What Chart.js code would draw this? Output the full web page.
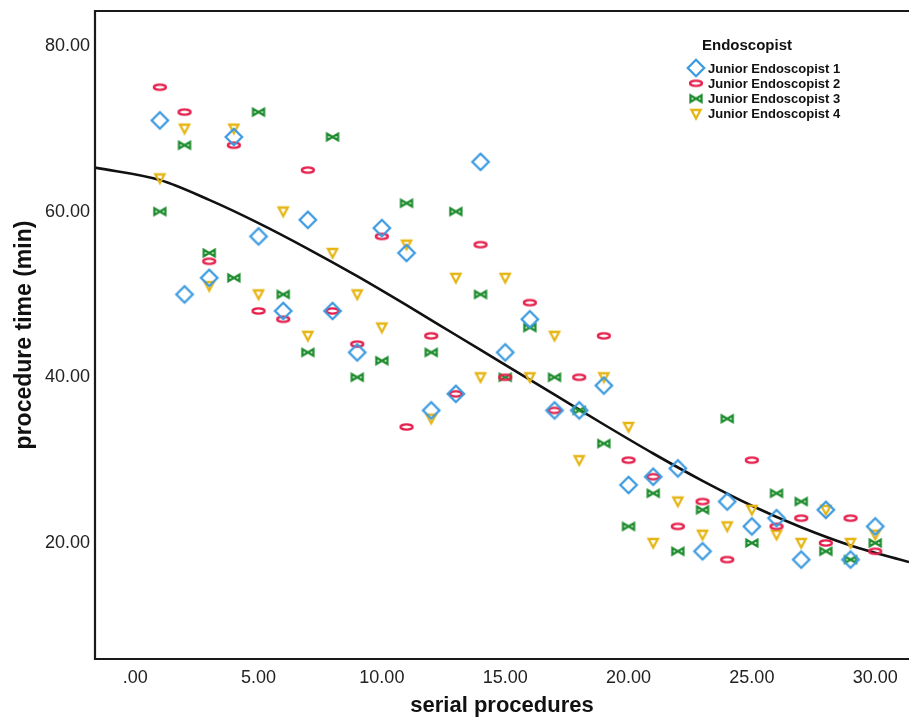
<!DOCTYPE html>
<html>
<head>
<meta charset="utf-8">
<script src="https://cdn.jsdelivr.net/npm/chart.js@4.4.0/dist/chart.umd.min.js"></script>
<style>
  html, body { margin: 0; padding: 0; background: #fff; }
  #wrap { width: 909px; height: 721px; }
</style>
</head>
<body>
<div id="wrap"><canvas id="chart" width="909" height="721"></canvas></div>
<script>
// procedure number (x) shared by all four endoscopists
const serial = [1, 2, 3, 4, 5, 6, 7, 8, 9, 10, 11, 12, 13, 14, 15, 16, 17, 18, 19, 20, 21, 22, 23, 24, 25, 26, 27, 28, 29, 30];

// procedure time (min)
const endo1 = [71, 50, 52, 69, 57, 48, 59, 48, 43, 58, 55, 36, 38, 66, 43, 47, 36, 36, 39, 27, 28, 29, 19, 25, 22, 23, 18, 24, 18, 22];
const endo2 = [75, 72, 54, 68, 48, 47, 65, 48, 44, 57, 34, 45, 38, 56, 40, 49, 36, 40, 45, 30, 28, 22, 25, 18, 30, 22, 23, 20, 23, 19];
const endo3 = [60, 68, 55, 52, 72, 50, 43, 69, 40, 42, 61, 43, 60, 50, 40, 46, 40, 36, 32, 22, 26, 19, 24, 35, 20, 26, 25, 19, 18, 20];
const endo4 = [64, 70, 51, 70, 50, 60, 45, 55, 50, 46, 56, 35, 52, 40, 52, 40, 45, 30, 40, 34, 20, 25, 21, 22, 24, 21, 20, 24, 20, 21];

// fitted learning curve, sampled along x
const fitX = [-1.63, 1, 3, 5, 7, 9, 11, 13, 15, 17, 19, 21, 23, 25, 27, 29, 31.37];
const fitY = [65.3, 63.8, 61.4, 58.6, 55.5, 52.2, 48.7, 45.1, 41.5, 37.9, 34.3, 30.8, 27.5, 24.5, 21.9, 19.7, 17.7];

const xTicks = [0, 5, 10, 15, 20, 25, 30];
const yTicks = [20, 40, 60, 80];

const seriesNames = ["Junior Endoscopist 1", "Junior Endoscopist 2", "Junior Endoscopist 3", "Junior Endoscopist 4"];
const seriesColors = ["#3b9ae0", "#e5204c", "#1d8c2d", "#e6b514"];
const seriesShapes = ["diamond", "ellipse", "bowtie", "triangleDown"];
const seriesValues = [endo1, endo2, endo3, endo4];

const FONT = "'Liberation Sans', Arial, sans-serif";

// hollow SPSS-style markers drawn on small canvases
function makeMarker(kind, color) {
  const c = document.createElement("canvas");
  c.width = 24; c.height = 24;
  const g = c.getContext("2d");
  g.translate(12, 12);
  g.strokeStyle = color;
  g.lineWidth = 2.3;
  g.lineJoin = "miter";
  g.beginPath();
  if (kind === "diamond") {
    g.moveTo(0, -8.2); g.lineTo(8.2, 0); g.lineTo(0, 8.2); g.lineTo(-8.2, 0); g.closePath();
  } else if (kind === "ellipse") {
    g.ellipse(0, 0, 6, 2.6, 0, 0, Math.PI * 2);
  } else if (kind === "bowtie") {
    g.moveTo(-5.5, -3.2); g.lineTo(5.5, 3.2); g.lineTo(5.5, -3.2); g.lineTo(-5.5, 3.2); g.closePath();
  } else {
    g.moveTo(-4.6, -4); g.lineTo(4.6, -4); g.lineTo(0, 4.6); g.closePath();
  }
  g.stroke();
  return c;
}

const markers = seriesShapes.map((s, i) => makeMarker(s, seriesColors[i]));

const scatterSets = seriesValues.map((vals, i) => ({
  label: seriesNames[i],
  data: serial.map((x, k) => ({ x: x, y: vals[k] })),
  pointStyle: markers[i],
  pointRadius: 9,
  pointHoverRadius: 9,
  showLine: false,
  order: 1
}));

const fitSet = {
  label: "fit",
  data: fitX.map((x, k) => ({ x: x, y: fitY[k] })),
  showLine: true,
  pointRadius: 0,
  pointHoverRadius: 0,
  borderColor: "#111",
  borderWidth: 2.6,
  cubicInterpolationMode: "monotone",
  fill: false,
  order: 2
};

function fmtTick(v) {
  return v === 0 ? ".00" : v.toFixed(2);
}

// plot frame (top, left, bottom) and the legend block
const framePlugin = {
  id: "frame",
  afterDraw(chart) {
    const ctx = chart.ctx;
    const a = chart.chartArea;
    ctx.save();
    ctx.strokeStyle = "#1a1a1a";
    ctx.lineWidth = 2.2;
    ctx.beginPath();
    ctx.moveTo(a.right + 3, a.top);
    ctx.lineTo(a.left, a.top);
    ctx.lineTo(a.left, a.bottom);
    ctx.lineTo(a.right + 3, a.bottom);
    ctx.stroke();

    ctx.fillStyle = "#111";
    ctx.textBaseline = "middle";
    ctx.textAlign = "left";
    ctx.font = "bold 15px " + FONT;
    ctx.fillText("Endoscopist", 702, 46);
    ctx.font = "bold 13px " + FONT;
    seriesNames.forEach((name, i) => {
      const y = 68 + i * 15.3;
      ctx.drawImage(markers[i], 696 - 12, y - 12);
      ctx.fillText(name, 708, y + 1);
    });
    ctx.restore();
  }
};

new Chart(document.getElementById("chart"), {
  type: "scatter",
  data: { datasets: [...scatterSets, fitSet] },
  options: {
    responsive: false,
    animation: false,
    events: [],
    layout: { autoPadding: false, padding: { top: 11, right: 0, bottom: 0, left: 0 } },
    plugins: {
      legend: { display: false },
      tooltip: { enabled: false }
    },
    scales: {
      x: {
        type: "linear",
        min: -1.63,
        max: 31.37,
        afterBuildTicks: s => { s.ticks = xTicks.map(v => ({ value: v })); },
        afterFit: s => { s.height = 62; s.paddingLeft = 0; s.paddingRight = 0; },
        grid: { display: false, drawTicks: false, tickLength: 0 },
        border: { display: false },
        ticks: {
          callback: v => fmtTick(v),
          font: { family: FONT, size: 18 },
          color: "#222",
          padding: 8,
          maxRotation: 0,
          autoSkip: false
        },
        title: {
          display: true,
          text: "serial procedures",
          font: { family: FONT, size: 22, weight: "bold" },
          color: "#111",
          padding: { top: 0, bottom: 2 }
        }
      },
      y: {
        type: "linear",
        min: 6.0,
        max: 84.2,
        afterBuildTicks: s => { s.ticks = yTicks.map(v => ({ value: v })); },
        afterFit: s => { s.width = 95; s.paddingTop = 0; s.paddingBottom = 0; },
        grid: { display: false, drawTicks: false, tickLength: 0 },
        border: { display: false },
        ticks: {
          callback: v => fmtTick(v),
          font: { family: FONT, size: 18 },
          color: "#222",
          padding: 5,
          autoSkip: false
        },
        title: {
          display: true,
          text: "procedure time (min)",
          font: { family: FONT, size: 23, weight: "bold" },
          color: "#111",
          padding: { top: 11, bottom: 0 }
        }
      }
    }
  },
  plugins: [framePlugin]
});
</script>
</body>
</html>
